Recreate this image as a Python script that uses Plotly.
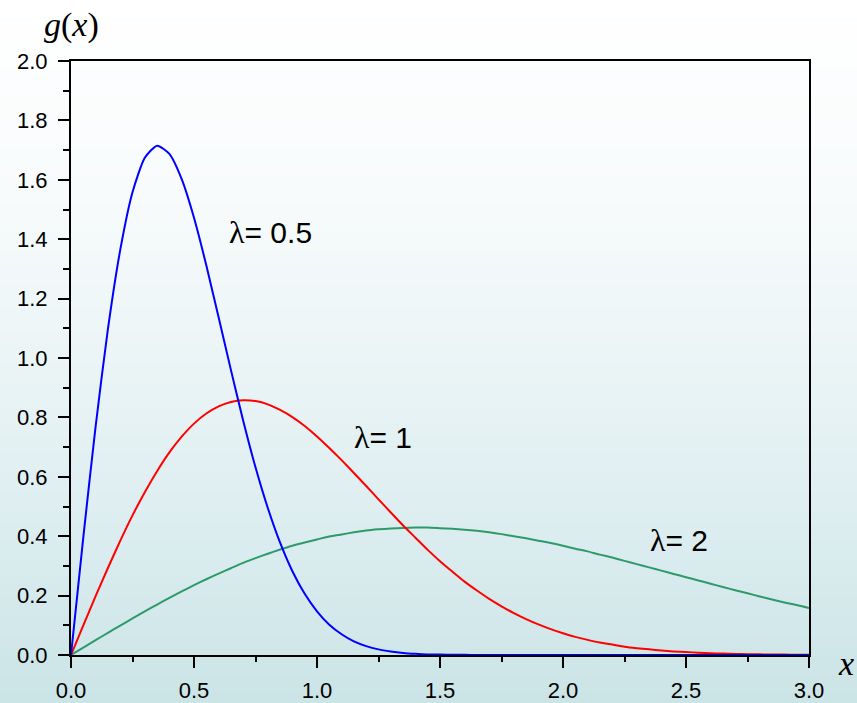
import plotly.graph_objects as go

# ---- data ----
x_vals = [round(0.05 * i, 2) for i in range(61)]

g_lambda_05 = [0, 0.396, 0.769, 1.097, 1.363, 1.558, 1.674, 1.715, 1.687, 1.602,
               1.472, 1.312, 1.137, 0.960, 0.789, 0.632, 0.495, 0.378, 0.282, 0.206,
               0.147, 0.102, 0.070, 0.046, 0.030, 0.019, 0.012, 0.007, 0.004, 0.002,
               0.0015, 0.001, 0.0005, 0, 0, 0, 0, 0, 0, 0,
               0, 0, 0, 0, 0, 0, 0, 0, 0, 0,
               0, 0, 0, 0, 0, 0, 0, 0, 0, 0, 0]

g_lambda_1 = [0, 0.0998, 0.198, 0.293, 0.384, 0.470, 0.548, 0.619, 0.682, 0.735,
              0.779, 0.813, 0.837, 0.852, 0.858, 0.855, 0.844, 0.825, 0.801, 0.771,
              0.736, 0.697, 0.656, 0.613, 0.569, 0.524, 0.480, 0.436, 0.395, 0.354,
              0.316, 0.281, 0.247, 0.217, 0.189, 0.164, 0.141, 0.121, 0.103, 0.087,
              0.073, 0.061, 0.051, 0.042, 0.035, 0.028, 0.023, 0.019, 0.015, 0.012,
              0.010, 0.0077, 0.006, 0.0047, 0.0037, 0.0029, 0.0022, 0.0017, 0.0013, 0.001, 0.0007]

g_lambda_2 = [0, 0.025, 0.0499, 0.0746, 0.099, 0.123, 0.147, 0.170, 0.192, 0.214,
              0.235, 0.255, 0.274, 0.292, 0.310, 0.326, 0.341, 0.355, 0.368, 0.379,
              0.389, 0.399, 0.406, 0.413, 0.419, 0.423, 0.426, 0.428, 0.429, 0.429,
              0.427, 0.425, 0.422, 0.418, 0.413, 0.407, 0.400, 0.393, 0.385, 0.377,
              0.368, 0.358, 0.349, 0.338, 0.328, 0.317, 0.306, 0.295, 0.284, 0.273,
              0.262, 0.251, 0.240, 0.229, 0.218, 0.208, 0.197, 0.187, 0.177, 0.168, 0.158]

series_labels = ["0.5", "1", "2"]
label_x = [0.81, 1.27, 2.47]
label_y = [1.424, 0.734, 0.387]

x_ticks = [0.0, 0.5, 1.0, 1.5, 2.0, 2.5, 3.0]
y_ticks = [0.0, 0.2, 0.4, 0.6, 0.8, 1.0, 1.2, 1.4, 1.6, 1.8, 2.0]

# ---- figure ----
W, H = 857, 703
ML, MR, MT, MB = 71, 48, 61, 48
PW, PH = W - ML - MR, H - MT - MB

fig = go.Figure()

colors = ["#0000ff", "#ff0000", "#2e9a6a"]
series = [g_lambda_05, g_lambda_1, g_lambda_2]
for idx in [2, 1, 0]:
    fig.add_trace(go.Scatter(x=x_vals, y=series[idx], mode="lines",
                             line=dict(color=colors[idx], width=2, shape="spline", smoothing=0.6),
                             cliponaxis=False, showlegend=False, hoverinfo="skip"))

# gradient background via strips (paper coordinates)
stops = [(0, (255, 255, 255)), (190, (248, 251, 252)), (350, (236, 245, 246)),
         (530, (220, 237, 240)), (703, (203, 228, 230))]

def col_at(py):
    for (p0, c0), (p1, c1) in zip(stops[:-1], stops[1:]):
        if p0 <= py <= p1:
            t = (py - p0) / (p1 - p0)
            return "rgb(%d,%d,%d)" % tuple(round(a + (b - a) * t) for a, b in zip(c0, c1))
    return "rgb(%d,%d,%d)" % stops[-1][1]

step = 4
shapes = []
for py in range(0, H, step):
    y_top = (H - MB - py) / PH
    y_bot = (H - MB - min(py + step + 1, H)) / PH
    shapes.append(dict(type="rect", xref="paper", yref="paper",
                       x0=-ML / PW, x1=(W - ML) / PW, y0=y_bot, y1=y_top,
                       fillcolor=col_at(py + step / 2), line=dict(width=0), layer="below"))

annotations = []
for t, ax_, ay_ in zip(series_labels, label_x, label_y):
    annotations.append(dict(x=ax_, y=ay_, xref="x", yref="y",
                            text="<span style='font-family:Liberation Serif, Times New Roman;font-size:32px'>λ</span>= " + t,
                            showarrow=False,
                            font=dict(family="Liberation Sans, Arial", size=30, color="black")))
annotations.append(dict(x=0, y=(H - MB - 25) / PH, xref="paper", yref="paper", text="<i>g</i>(<i>x</i>)",
                        showarrow=False, xanchor="center", yanchor="middle",
                        font=dict(family="Liberation Serif, Times New Roman", size=34, color="black")))
annotations.append(dict(x=(846 - ML) / PW, y=(H - MB - 663) / PH, xref="paper", yref="paper", text="<i>x</i>",
                        showarrow=False, xanchor="center", yanchor="middle",
                        font=dict(family="Liberation Serif, Times New Roman", size=34, color="black")))

tickfont = dict(family="Liberation Sans, Arial", size=22, color="black")

fig.update_layout(
    template="none",
    width=W, height=H, autosize=False,
    margin=dict(l=ML, r=MR, t=MT, b=MB, autoexpand=False),
    paper_bgcolor="white", plot_bgcolor="rgba(0,0,0,0)",
    shapes=shapes, annotations=annotations,
    xaxis=dict(range=[0, 3], tickvals=x_ticks, ticktext=["%.1f" % v for v in x_ticks],
               ticks="outside", ticklen=11, tickwidth=2, tickcolor="black",
               minor=dict(dtick=0.25, tick0=0, ticks="outside", ticklen=5, tickwidth=2, tickcolor="black"),
               showline=True, linewidth=2, linecolor="black", mirror=True, automargin=False,
               showgrid=False, zeroline=False, tickfont=tickfont, layer="below traces",
               ticklabelstandoff=4),
    yaxis=dict(range=[0, 2], tickvals=y_ticks, ticktext=["%.1f" % v for v in y_ticks],
               ticks="outside", ticklen=11, tickwidth=2, tickcolor="black",
               minor=dict(dtick=0.1, tick0=0, ticks="outside", ticklen=6, tickwidth=2, tickcolor="black"),
               showline=True, linewidth=2, linecolor="black", mirror=True, automargin=False,
               showgrid=False, zeroline=False, tickfont=tickfont, layer="below traces",
               ticklabelstandoff=6),
    xaxis2=dict(range=[0, 3], overlaying="x", anchor="y", side="bottom", tickvals=x_ticks,
                ticks="inside", ticklen=11, tickwidth=2, tickcolor="black",
                minor=dict(dtick=0.25, tick0=0, ticks="inside", ticklen=5, tickwidth=2, tickcolor="black"),
                showticklabels=False, showline=False, showgrid=False, zeroline=False, automargin=False),
    yaxis2=dict(range=[0, 2], overlaying="y", anchor="x", side="left", tickvals=y_ticks,
                ticks="inside", ticklen=11, tickwidth=2, tickcolor="black",
                minor=dict(dtick=0.1, tick0=0, ticks="inside", ticklen=6, tickwidth=2, tickcolor="black"),
                showticklabels=False, showline=False, showgrid=False, zeroline=False, automargin=False),
)

fig.write_html("out.html", config={"displayModeBar": False},
               post_script="document.body.style.margin='0';document.body.style.overflow='hidden';")
